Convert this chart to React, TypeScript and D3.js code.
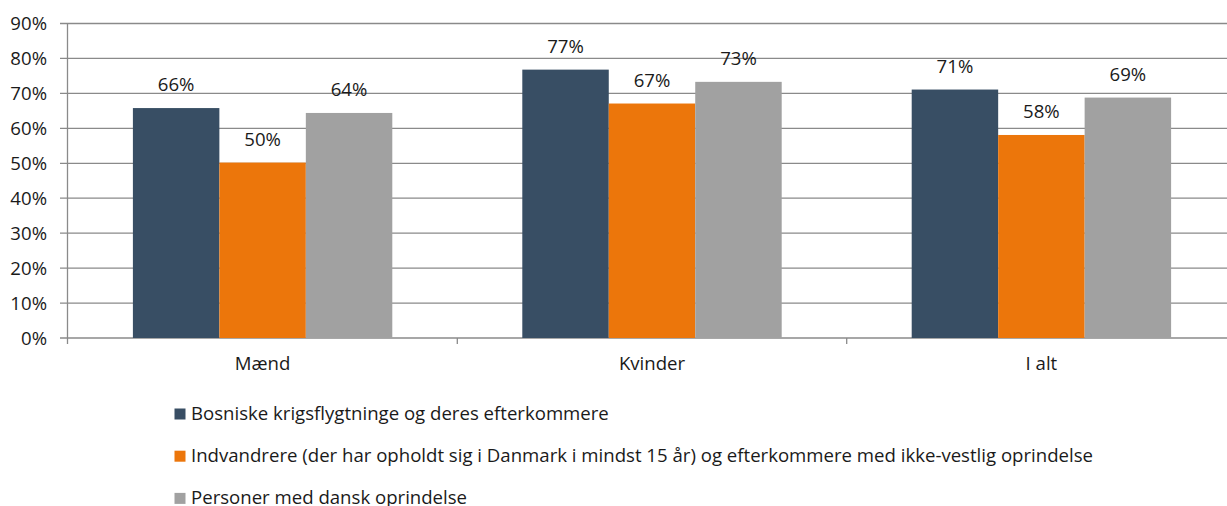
import React from "react";
import * as d3 from "d3";

const categories = ["Mænd", "Kvinder", "I alt"];
const seriesNames = [
  "Bosniske krigsflygtninge og deres efterkommere",
  "Indvandrere (der har opholdt sig i Danmark i mindst 15 år) og efterkommere med ikke-vestlig oprindelse",
  "Personer med dansk oprindelse",
];
const bosnian = [65.8, 76.8, 71.1];
const immigrants = [50.2, 67.1, 58.1];
const danish = [64.4, 73.3, 68.8];
const seriesColors = ["#384e64", "#ec760b", "#a1a1a1"];
const yTicks = [0, 10, 20, 30, 40, 50, 60, 70, 80, 90];

const W = 1227;
const H = 506;
const FONT = "'Open Sans', sans-serif";
const FS = 18.6;

export default function App() {
  const series = [bosnian, immigrants, danish];
  const x0 = 67.9;
  const band = 389.4;
  const x = d3.scaleBand<string>().domain(categories).range([x0, x0 + band * 3]);
  const y = d3.scaleLinear().domain([0, 90]).range([338, 23.5]);
  const off = 65;
  const barW = (band - 2 * off) / 3;

  return (
    <svg width={W} height={H} style={{ position: "absolute", left: 0, top: 0, fontFamily: FONT }}>
      <rect x={0} y={0} width={W} height={H} fill="#fff" />
      {yTicks.map((t) => (
        <g key={t}>
          <line x1={60} x2={W} y1={y(t)} y2={y(t)} stroke="#8a8a8a" strokeWidth={1.3} />
          <text x={47} y={y(t) + 6.5} textAnchor="end" fontSize={FS} fill="#1a1a1a">
            {t}%
          </text>
        </g>
      ))}
      <line x1={67.5} x2={67.5} y1={y(90)} y2={y(0) + 6} stroke="#8a8a8a" strokeWidth={1.3} />
      {categories.map((c) => (
        <g key={c}>
          <line x1={x(c)! + band} x2={x(c)! + band} y1={y(0)} y2={y(0) + 6} stroke="#8a8a8a" strokeWidth={1.3} />
          <text x={x(c)! + band / 2} y={370} textAnchor="middle" fontSize={FS} fill="#1a1a1a">
            {c}
          </text>
        </g>
      ))}
      {series.map((vals, s) =>
        vals.map((v, i) => {
          const bx = x(categories[i])! + off + s * barW;
          return (
            <g key={`${s}-${i}`}>
              <rect x={bx} y={y(v)} width={barW} height={y(0) - y(v)} fill={seriesColors[s]} />
              <text x={bx + barW / 2} y={y(v) - 17} textAnchor="middle" fontSize={FS} fill="#1a1a1a">
                {Math.round(v)}%
              </text>
            </g>
          );
        })
      )}
      {seriesNames.map((n, i) => (
        <g key={n}>
          <rect x={174.5} y={408.5 + i * 42.2} width={11} height={11} fill={seriesColors[i]} />
          <text x={191} y={419.5 + i * 42.2} fontSize={FS} fill="#1a1a1a">
            {n}
          </text>
        </g>
      ))}
    </svg>
  );
}
